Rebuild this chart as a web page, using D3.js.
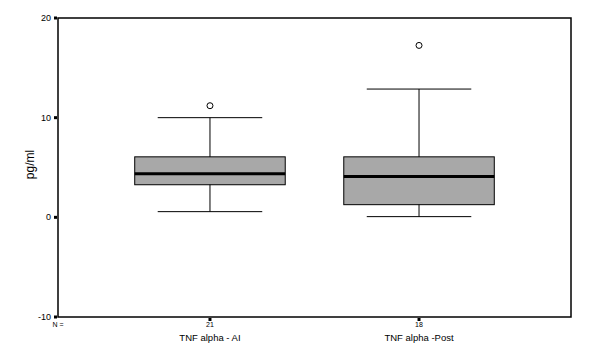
<!DOCTYPE html>
<html>
<head>
<meta charset="utf-8">
<script src="https://cdn.jsdelivr.net/npm/d3@7"></script>
<style>
  body { margin: 0; background: #fff; }
  text { font-family: Arial, "Liberation Sans", sans-serif; fill: #000; }
</style>
</head>
<body>
<div id="chart"></div>
<script>
const categories = ["TNF alpha - AI", "TNF alpha -Post"];
const counts = ["21", "18"];
const whiskerLow = [0.57, 0.07];
const q1 = [3.27, 1.27];
const medians = [4.37, 4.1];
const q3 = [6.07, 6.07];
const whiskerHigh = [10.0, 12.87];
const outliers = [[11.2], [17.25]];
const yTicks = [-10, 0, 10, 20];

const margin = { top: 18, right: 18, bottom: 37, left: 58 },
  width = 589 - margin.left - margin.right,
  height = 354 - margin.top - margin.bottom;

const svg = d3
  .select("#chart")
  .append("svg")
  .attr("width", 589)
  .attr("height", 354)
  .append("g")
  .attr("transform", `translate(${margin.left}, ${margin.top})`);

const data = categories.map((c, i) => ({
  cat: c,
  n: counts[i],
  lo: whiskerLow[i],
  q1: q1[i],
  med: medians[i],
  q3: q3[i],
  hi: whiskerHigh[i],
  out: outliers[i],
}));

const x = d3.scalePoint().domain(categories).range([0, width]).padding(0.727);
const step = x.step();
const y = d3.scaleLinear().domain([-10, 20]).range([height, 0]);

// frame
svg
  .append("rect")
  .attr("x", 0)
  .attr("y", 0)
  .attr("width", width)
  .attr("height", height)
  .attr("fill", "none")
  .attr("stroke", "#000")
  .attr("stroke-width", 1.5);

// y ticks
svg
  .selectAll(".ytick")
  .data(yTicks)
  .join("rect")
  .attr("x", -4)
  .attr("y", (d) => y(d) - 1.5)
  .attr("width", 3)
  .attr("height", 3)
  .attr("fill", "#000");

svg
  .selectAll(".ylab")
  .data(yTicks)
  .join("text")
  .attr("x", -7)
  .attr("y", (d) => y(d))
  .attr("dy", "0.35em")
  .attr("text-anchor", "end")
  .attr("font-size", 9)
  .text((d) => d);

svg
  .append("text")
  .attr("transform", "rotate(-90)")
  .attr("x", -height / 2 + 3)
  .attr("y", -28)
  .attr("dy", "0.35em")
  .attr("text-anchor", "middle")
  .attr("font-size", 12)
  .text("pg/ml");

// x ticks
svg
  .selectAll(".xtick")
  .data(data)
  .join("rect")
  .attr("x", (d) => x(d.cat) - 1.5)
  .attr("y", height + 1)
  .attr("width", 3)
  .attr("height", 3)
  .attr("fill", "#000");

svg
  .append("text")
  .attr("x", 0)
  .attr("y", height + 10)
  .attr("text-anchor", "middle")
  .attr("font-size", 7)
  .text("N =");

svg
  .selectAll(".nlab")
  .data(data)
  .join("text")
  .attr("x", (d) => x(d.cat))
  .attr("y", height + 10)
  .attr("text-anchor", "middle")
  .attr("font-size", 7)
  .text((d) => d.n);

svg
  .selectAll(".xlab")
  .data(data)
  .join("text")
  .attr("x", (d) => x(d.cat))
  .attr("y", height + 24)
  .attr("text-anchor", "middle")
  .attr("font-size", 9.5)
  .text((d) => d.cat);

const boxW = step * 0.72,
  capW = step * 0.5;

const g = svg.selectAll(".box").data(data).join("g");

g.append("line")
  .attr("x1", (d) => x(d.cat))
  .attr("x2", (d) => x(d.cat))
  .attr("y1", (d) => y(d.lo))
  .attr("y2", (d) => y(d.hi))
  .attr("stroke", "#000");

g.append("line")
  .attr("x1", (d) => x(d.cat) - capW / 2)
  .attr("x2", (d) => x(d.cat) + capW / 2)
  .attr("y1", (d) => y(d.hi))
  .attr("y2", (d) => y(d.hi))
  .attr("stroke", "#000");

g.append("line")
  .attr("x1", (d) => x(d.cat) - capW / 2)
  .attr("x2", (d) => x(d.cat) + capW / 2)
  .attr("y1", (d) => y(d.lo))
  .attr("y2", (d) => y(d.lo))
  .attr("stroke", "#000");

g.append("rect")
  .attr("x", (d) => x(d.cat) - boxW / 2)
  .attr("y", (d) => y(d.q3))
  .attr("width", boxW)
  .attr("height", (d) => y(d.q1) - y(d.q3))
  .attr("fill", "#a8a8a8")
  .attr("stroke", "#000");

g.append("line")
  .attr("x1", (d) => x(d.cat) - boxW / 2)
  .attr("x2", (d) => x(d.cat) + boxW / 2)
  .attr("y1", (d) => y(d.med))
  .attr("y2", (d) => y(d.med))
  .attr("stroke", "#000")
  .attr("stroke-width", 3);

g.selectAll("circle")
  .data((d) => d.out.map((v) => ({ cat: d.cat, v: v })))
  .join("circle")
  .attr("cx", (d) => x(d.cat))
  .attr("cy", (d) => y(d.v))
  .attr("r", 3)
  .attr("fill", "#fff")
  .attr("stroke", "#000");
</script>
</body>
</html>
